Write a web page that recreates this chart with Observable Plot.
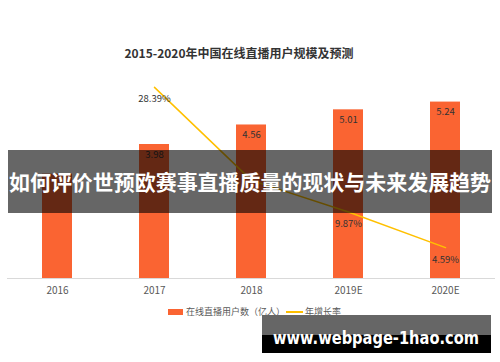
<!DOCTYPE html>
<html>
<head>
<meta charset="utf-8">
<script src="https://cdn.jsdelivr.net/npm/d3@7"></script>
<script src="https://cdn.jsdelivr.net/npm/@observablehq/plot@0.6"></script>
<style>
  html, body { margin: 0; padding: 0; background: #fff; }
  #wrap { position: relative; width: 500px; height: 362px; overflow: hidden; background: #fff;
          font-family: "Noto Sans CJK SC", "Noto Sans", sans-serif; }
  #chart { position: absolute; left: 0; top: 0; }
  #title { position: absolute; left: 0; width: 478px; top: 44px; text-align: center;
           font-size: 12px; font-weight: 600; color: #333; line-height: 18px; white-space: nowrap; }
  #legend { position: absolute; left: 168px; top: 305px; height: 14px; font-size: 9px; color: #595959;
            line-height: 14px; white-space: nowrap; display: flex; align-items: center; }
  #legend .sw { display: inline-block; width: 15px; height: 6px; background: #FA6432; margin-right: 3px; }
  #legend .ln { display: inline-block; width: 17px; height: 2px; background: #FFC000; margin: 0 2px 0 1px; }
  #overlay { position: absolute; left: 0; top: 0; }
</style>
</head>
<body>
<div id="wrap">
  <div id="chart"></div>
  <div id="title"></div>
  <div id="legend"></div>
  <svg id="overlay" width="500" height="362"></svg>
</div>
<script>
// ---- data ----
const years = ["2016", "2017", "2018", "2019E", "2020E"];
const users = [3.10, 3.98, 4.56, 5.01, 5.24];          // 在线直播用户数（亿人）
const rateYears = ["2017", "2018", "2019E", "2020E"];
const rates = [28.39, 14.57, 9.87, 4.59];               // 年增长率 (%)
const hiddenLabelYears = ["2016"];                       // bar label covered by banner
const hiddenRateYears = ["2018"];                        // rate label covered by banner
const titleText = "2015-2020年中国在线直播用户规模及预测";
const legendLabels = ["在线直播用户数（亿人）", "年增长率"];
const bannerText = "如何评价世预欧赛事直播质量的现状与未来发展趋势";
const watermarkText = "www.webpage-1hao.com";

const barData = years.map((year, i) => ({year, users: users[i]}));
const rateData = rateYears.map((year, i) => ({year, rate: rates[i]}));

const chart = Plot.plot({
  width: 500,
  height: 362,
  marginTop: 76,
  marginBottom: 84,
  marginLeft: 7,
  marginRight: 5,
  style: {fontFamily: "'Noto Sans CJK SC', 'Noto Sans', sans-serif", fontSize: "10px", color: "#595959", background: "transparent"},
  x: {type: "band", domain: years, paddingInner: 0.69, paddingOuter: 0.345, label: null, tickSize: 0, tickPadding: 8},
  y: {domain: [0, 6], axis: null},
  marks: [
    Plot.barY(barData, {x: "year", y: "users", fill: "#FA6432"}),
    Plot.ruleY([0], {stroke: "#d9d9d9", strokeWidth: 1}),
    Plot.text(barData.filter(d => !hiddenLabelYears.includes(d.year)),
      {x: "year", y: "users", text: d => d.users.toFixed(2), dy: 10, fill: "#333", fontSize: 9.5}),
    Plot.line(rateData, {x: "year", y: d => d.rate / 5, stroke: "#FFC000", strokeWidth: 1.5}),
    Plot.text(rateData.filter(d => !hiddenRateYears.includes(d.year)),
      {x: "year", y: d => d.rate / 5, text: d => d.rate.toFixed(2) + "%", dy: 12, fill: "#333", fontSize: 9.5})
  ]
});
document.getElementById("chart").appendChild(chart);

document.getElementById("title").textContent = titleText;
document.getElementById("legend").innerHTML =
  `<span class="sw"></span><span>${legendLabels[0]}</span><span class="ln"></span><span>${legendLabels[1]}</span>`;

// ---- overlay banner and watermark ----
const ns = "http://www.w3.org/2000/svg";
const ov = document.getElementById("overlay");
function el(tag, attrs, text) {
  const e = document.createElementNS(ns, tag);
  for (const k in attrs) e.setAttribute(k, attrs[k]);
  if (text) e.textContent = text;
  ov.appendChild(e);
  return e;
}
el("rect", {x: 8, y: 150, width: 484, height: 63, fill: "#000", "fill-opacity": 0.6});
el("text", {x: 9, y: 190, fill: "#fff", "font-size": 21, "font-weight": 700,
  "font-family": "'Noto Sans CJK SC', sans-serif", textLength: 482, lengthAdjust: "spacingAndGlyphs"}, bannerText);
el("rect", {x: 262, y: 315, width: 229, height: 38, fill: "#000"});
el("rect", {x: 262, y: 315, width: 229, height: 20, fill: "#666"});
el("text", {x: 273, y: 344, fill: "#fff", "font-size": 17, "font-weight": 700,
  "font-family": "'DejaVu Sans', sans-serif", textLength: 206, lengthAdjust: "spacingAndGlyphs"}, watermarkText);
</script>
</body>
</html>
